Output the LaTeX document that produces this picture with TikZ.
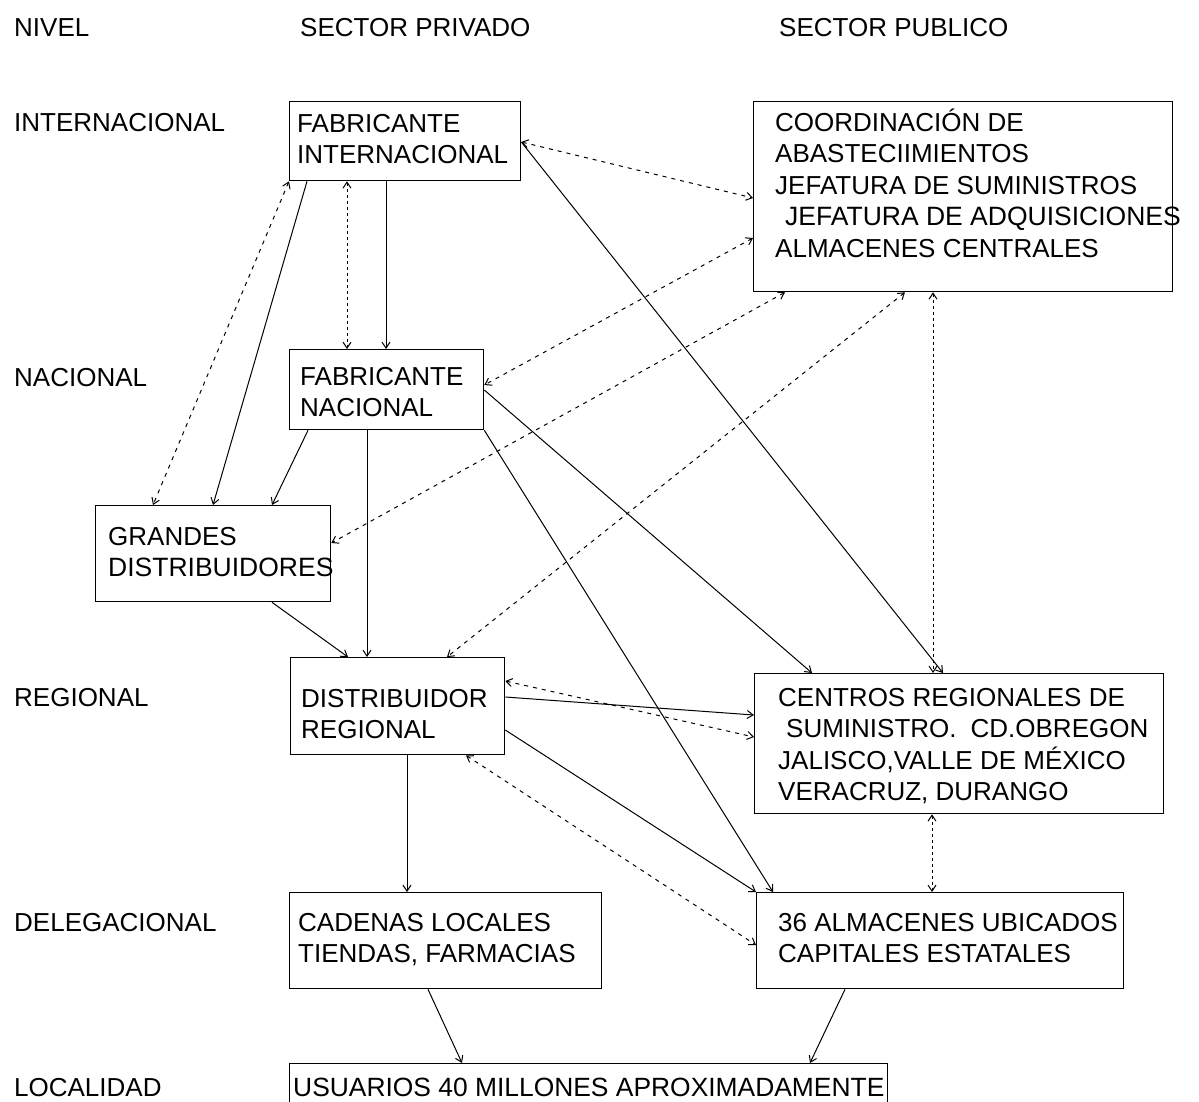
\documentclass[tikz,border=0pt]{standalone}
\usepackage{fontspec}
\setmainfont{Liberation Sans}
\usetikzlibrary{arrows.meta,calc}

\newcommand{\boxfont}{\fontsize{26}{31.5}\selectfont}
\newcommand{\firstline}{\rule{0pt}{24pt}}

\begin{document}
\begin{tikzpicture}[x=1pt,y=-1pt,
  box/.style={draw, line width=1.3pt, anchor=north west, inner sep=0pt},
  txt/.style={anchor=north west, inner sep=0pt, align=left, font=\boxfont},
  lbl/.style={anchor=base west, inner sep=0pt, font=\boxfont},
  flow/.style={line width=1pt, -{Straight Barb[length=6pt,width=8pt]}},
  link/.style={line width=1pt, dash pattern=on 4pt off 5pt,
    {Straight Barb[length=6pt,width=8pt]}-{Straight Barb[length=6pt,width=8pt]}},
]
\fill[white] (0,0) rectangle (1199,1101);
\useasboundingbox (0,0) rectangle (1199,1101);

% column and row headings
\node[lbl] (hNivel) at (14,36) {NIVEL};
\node[lbl] (hPriv) at (300,36) {SECTOR PRIVADO};
\node[lbl] (hPub) at (779,36) {SECTOR PUBLICO};
\node[lbl] (lInt) at (14,131) {INTERNACIONAL};
\node[lbl] (lNac) at (14,386) {NACIONAL};
\node[lbl] (lReg) at (14,706) {REGIONAL};
\node[lbl] (lDel) at (14,931) {DELEGACIONAL};
\node[lbl] (lLoc) at (14,1096) {LOCALIDAD};

% boxes
\node[box, minimum width=231pt, minimum height=79pt] (fi) at (289,101) {};
\node[box, minimum width=419pt, minimum height=190pt] (coord) at (753,101) {};
\node[box, minimum width=194pt, minimum height=80pt] (fn) at (289,349) {};
\node[box, minimum width=235pt, minimum height=96pt] (gd) at (95,505) {};
\node[box, minimum width=214pt, minimum height=97pt] (dr) at (290,657) {};
\node[box, minimum width=409pt, minimum height=140pt] (cr) at (754,673) {};
\node[box, minimum width=312pt, minimum height=96pt] (cl) at (289,892) {};
\node[box, minimum width=367pt, minimum height=96pt] (alm) at (756,892) {};
\node[box, minimum width=598pt, minimum height=44pt] (us) at (289,1063) {};

% box texts
\node[txt] (fiT) at (297,108) {\firstline FABRICANTE\\INTERNACIONAL};
\node[txt] (coordT) at (775,107) {\firstline COORDINACIÓN DE\\ABASTECIIMIENTOS\\JEFATURA DE SUMINISTROS\\\hspace*{10pt}{\fontsize{26.5}{31.5}\selectfont JEFATURA DE ADQUISICIONES}\\ALMACENES CENTRALES};
\node[txt] (fnT) at (300,361) {\firstline FABRICANTE\\NACIONAL};
\node[txt] (gdT) at (108,521) {\firstline GRANDES\\{\fontsize{26.5}{31.5}\selectfont DISTRIBUIDORES}};
\node[txt] (drT) at (301,683) {\firstline DISTRIBUIDOR\\REGIONAL};
\node[txt] (crT) at (778,682) {\firstline CENTROS REGIONALES DE\\\hspace*{8pt}SUMINISTRO.\hspace{14pt}CD.OBREGON\\JALISCO,VALLE DE MÉXICO\\VERACRUZ, DURANGO};
\node[txt] (clT) at (298,907) {\firstline CADENAS LOCALES\\TIENDAS, FARMACIAS};
\node[txt] (almT) at (778,907) {\firstline 36 ALMACENES UBICADOS\\CAPITALES ESTATALES};
\node[lbl, font=\fontsize{26.4}{31.5}\selectfont] (usT) at (293,1096) {USUARIOS 40 MILLONES APROXIMADAMENTE};

% supply flows (solid)
\draw[flow] ($(fi.south west)+(97,0)$) -- ($(fn.north west)+(97,0)$);
\draw[flow] ($(fi.south west)+(18,0)$) -- ($(gd.north west)+(118,0)$);
\draw[flow] ($(fn.south west)+(19,0)$) -- ($(gd.north west)+(177,0)$);
\draw[flow] ($(fn.south west)+(78,0)$) -- ($(dr.north west)+(77,0)$);
\draw[flow] ($(gd.south west)+(177,0)$) -- ($(dr.north west)+(58,0)$);
\draw[flow] ($(fi.north east)+(0,41)$) -- ($(cr.north west)+(189,0)$);
\draw[flow] ($(fn.north east)+(0,41)$) -- ($(cr.north west)+(58,0)$);
\draw[flow] (fn.south east) -- ($(alm.north west)+(17,0)$);
\draw[flow] ($(dr.north east)+(0,40)$) -- ($(cr.north west)+(0,42)$);
\draw[flow] ($(dr.north east)+(0,73)$) -- (alm.north west);
\draw[flow] ($(dr.south west)+(117,0)$) -- ($(cl.north west)+(118,0)$);
\draw[flow] ($(cl.south west)+(139,0)$) -- ($(us.north west)+(173,0)$);
\draw[flow] ($(alm.south west)+(89,0)$) -- ($(us.north west)+(521,0)$);

% two-way links (dashed)
\draw[link] (fi.south west) -- ($(gd.north west)+(58,0)$);
\draw[link, dash pattern=on 3pt off 3pt] ($(fi.south west)+(58,0)$) -- ($(fn.north west)+(58,0)$);
\draw[link] ($(fi.north east)+(0,41)$) -- ($(coord.north west)+(0,97)$);
\draw[link] ($(coord.north west)+(0,137)$) -- ($(fn.north east)+(0,36)$);
\draw[link] ($(coord.south west)+(32,0)$) -- ($(gd.north east)+(0,38)$);
\draw[link] ($(coord.south west)+(152,0)$) -- ($(dr.north west)+(157,0)$);
\draw[link, dash pattern=on 3pt off 3pt] ($(coord.south west)+(180,0)$) -- ($(cr.north west)+(179,0)$);
\draw[link] ($(dr.north east)+(0,24)$) -- ($(cr.north west)+(0,64)$);
\draw[link] ($(dr.south west)+(176,0)$) -- ($(alm.north west)+(0,53)$);
\draw[link, dash pattern=on 3pt off 3pt] ($(cr.south west)+(178,0)$) -- ($(alm.north west)+(176,0)$);
\end{tikzpicture}
\end{document}
